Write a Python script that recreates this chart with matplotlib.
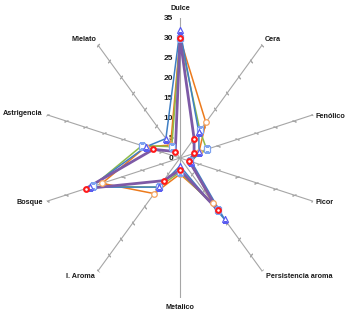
import numpy as np
import matplotlib
matplotlib.use('Agg')
from matplotlib import pyplot as plt

plt.rcParams['font.family'] = ['Liberation Sans', 'DejaVu Sans']

# categories, clockwise from the top
categories = ['Dulce', 'Cera', 'Fenólico', 'Picor', 'Persistencia aroma',
              'Metalico', 'I. Aroma', 'Bosque', 'Astrigencia', 'Mielato']
rticks = [0, 5, 10, 15, 20, 25, 30, 35]

# series values
serie_naranja = [30, 11, 5, 2.5, 14, 4, 11, 20.5, 9, 4]
serie_verde = [30, 8.5, 7, 2.5, 16, 3.5, 9, 23, 10, 3.5]
serie_azul = [32, 8, 5, 3, 19, 2, 9, 23.6, 9, 6]
serie_morada = [30, 6, 3.7, 2.4, 16, 3, 7, 24.8, 7, 2]

series = [
    (serie_naranja, '#ec7a1c', 1.1, 'o', '#f5a35f', 4.0, 0.9),
    (serie_verde, '#8dba4a', 1.1, 's', '#7fa3f0', 3.8, 0.9),
    (serie_azul, '#3f7fc4', 1.1, '^', '#5a5cf0', 4.0, 0.9),
    (serie_morada, '#7d5aa6', 2.0, 'o', '#ff1a1a', 3.4, 1.5),
]

n = len(categories)
theta = np.linspace(0, 2 * np.pi, n, endpoint=False)

fig = plt.figure(figsize=(3.51, 3.16), dpi=100)
ax = fig.add_axes([40 / 351, 18 / 316, 280 / 351, 280 / 316], projection='polar')
ax.set_theta_zero_location('N')
ax.set_theta_direction(-1)
ax.set_ylim(0, 35)
ax.grid(False)
ax.spines['polar'].set_visible(False)
ax.set_xticks([])
ax.set_yticks([])
ax.patch.set_visible(False)

# spokes with tick marks
for t in theta:
    ax.plot([t, t], [0, 35], color='#a6a6a6', lw=0.8, zorder=1)
    ax.plot([t] * 7, rticks[1:], ls='none', marker=(2, 2, np.degrees(t)),
            ms=3, mec='#a6a6a6', mew=0.7, zorder=1)

# radial labels on the top axis
for r in rticks:
    ax.annotate(str(r), xy=(0, r), xytext=(-5, 0), textcoords='offset points',
                ha='right', va='center', fontsize=6.0, fontweight='bold', color='#1a1a1a')

# category labels
label_pos = [
    ((0, 4), 'center', 'bottom'),
    ((2, 1), 'left', 'bottom'),
    ((2, -1), 'left', 'center'),
    ((2, -1), 'left', 'center'),
    ((3, -1), 'left', 'top'),
    ((0, -4), 'center', 'top'),
    ((-2, -1), 'right', 'top'),
    ((-3, -1), 'right', 'center'),
    ((-3, 1), 'right', 'center'),
    ((-1, 1), 'right', 'bottom'),
]
for t, name, (off, ha, va) in zip(theta, categories, label_pos):
    ax.annotate(name, xy=(t, 35), xytext=off, textcoords='offset points',
                ha=ha, va=va, fontsize=5.2, fontweight='bold', color='#1a1a1a')

# lines
tt = np.append(theta, theta[0])
for vals, col, lw, mk, mcol, ms, mew in series:
    vv = np.append(vals, vals[0])
    ax.plot(tt, vv, color=col, lw=lw, zorder=3)
# markers on top
for vals, col, lw, mk, mcol, ms, mew in series:
    ax.plot(theta, vals, ls='none', marker=mk, ms=ms, mfc='white',
            mec=mcol, mew=mew, zorder=4)

plt.savefig('out.png', dpi=100)
